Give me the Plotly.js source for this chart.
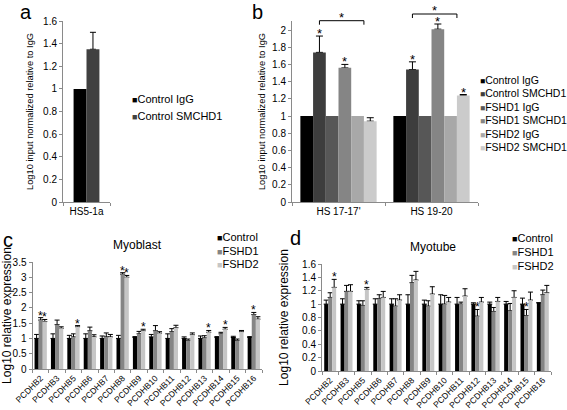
<!DOCTYPE html>
<html><head><meta charset="utf-8">
<script src="https://cdn.plot.ly/plotly-3.0.1.min.js"></script>
<style>html,body{margin:0;padding:0;background:#fff}#chart{width:567px;height:410px}</style>
</head><body><div id="chart"></div>
<script>
// ---------------- DATA ----------------
// Panel a
const aCategories = ['HS5-1a'];
const aSeriesNames = ['Control IgG', 'Control SMCHD1'];
const aControlIgG = [1];
const aControlSMCHD1 = [1.35];
const aErrControlIgG = [0];
const aErrControlSMCHD1 = [0.15];

// Panel b
const bCategories = ["HS 17-17'", 'HS 19-20'];
const bSeriesNames = ['Control IgG', 'Control SMCHD1', 'FSHD1 IgG', 'FSHD1 SMCHD1', 'FSHD2 IgG', 'FSHD2 SMCHD1'];
const bControlIgG = [1, 1];
const bControlSMCHD1 = [1.74, 1.54];
const bFSHD1IgG = [1, 1];
const bFSHD1SMCHD1 = [1.56, 2.01];
const bFSHD2IgG = [1, 1];
const bFSHD2SMCHD1 = [0.94, 1.24];
const bErrIgG = [0, 0];
const bErrControlSMCHD1 = [0.19, 0.09];
const bErrFSHD1SMCHD1 = [0.04, 0.06];
const bErrFSHD2SMCHD1 = [0.04, 0.01];
const bStarControlSMCHD1 = [1, 1];
const bStarFSHD1SMCHD1 = [1, 1];
const bStarFSHD2SMCHD1 = [0, 1];

// Panels c and d share categories
const geneCategories = ['PCDHB2','PCDHB3','PCDHB5','PCDHB6','PCDHB7','PCDHB8','PCDHB9','PCDHB10','PCDHB11','PCDHB12','PCDHB13','PCDHB14','PCDHB15','PCDHB16'];
const cdSeriesNames = ['Control', 'FSHD1', 'FSHD2'];

// Panel c (Myoblast)
const cControl    = [1.0, 1.0, 1.0, 1.0, 1.0, 1.0, 1.03, 1.05, 1.0, 1.0, 1.0, 1.03, 1.03, 1.03];
const cControlErr = [0.13, 0.15, 0.1, 0.15, 0.08, 0.1, 0.03, 0.08, 0.15, 0.05, 0.08, 0.03, 0.04, 0.03];
const cFSHD1      = [1.6, 1.45, 1.05, 1.25, 1.05, 3.1, 1.15, 1.25, 1.22, 0.93, 1.02, 1.15, 0.93, 1.78];
const cFSHD1Err   = [0.08, 0.15, 0.1, 0.12, 0.13, 0.05, 0.08, 0.17, 0.1, 0.05, 0.07, 0.05, 0.05, 0.07];
const cFSHD2      = [1.55, 1.33, 1.38, 1.05, 1.05, 3.0, 1.25, 1.17, 1.35, 1.12, 1.2, 1.3, 1.22, 1.63];
const cFSHD2Err   = [0.07, 0.05, 0.04, 0.07, 0.08, 0.06, 0.05, 0.05, 0.08, 0.06, 0.06, 0.06, 0.04, 0.08];
const cStarFSHD1  = [1,0,0,0,0,1,0,0,0,0,0,0,0,1];
const cStarFSHD2  = [1,0,1,0,0,1,1,0,0,0,1,1,0,0];

// Panel d (Myotube)
const dControl    = [1.0, 1.0, 1.0, 1.0, 1.0, 1.0, 1.0, 1.0, 1.0, 1.0, 1.0, 1.0, 1.0, 1.02];
const dControlErr = [0.06, 0.08, 0.05, 0.08, 0.08, 0.14, 0.06, 0.14, 0.1, 0.02, 0.03, 0.04, 0.09, 0];
const dFSHD1      = [1.1, 1.19, 0.98, 1.08, 0.97, 1.32, 0.97, 1.0, 1.0, 0.82, 0.89, 0.9, 0.83, 1.14];
const dFSHD1Err   = [0.07, 0.09, 0.07, 0.06, 0.11, 0.11, 0.08, 0.13, 0.03, 0.1, 0.06, 0.11, 0.09, 0.07];
const dFSHD2      = [1.25, 1.19, 1.22, 1.1, 1.06, 1.36, 1.15, 1.03, 1.12, 1.03, 1.04, 1.1, 1.06, 1.17];
const dFSHD2Err   = [0.12, 0.1, 0.03, 0.09, 0.08, 0.13, 0.11, 0.07, 0.11, 0.07, 0.06, 0.1, 0.12, 0.11];
const dStarFSHD1  = [0,0,0,0,0,0,0,0,0,1,0,0,1,0];
const dStarFSHD2  = [1,0,1,0,0,0,0,0,0,0,0,0,0,0];

// ---------------- STYLE / LAYOUT HELPERS ----------------
const W = 567, H = 410;
const fx = p => p / W;          // pixel x -> paper
const fy = p => 1 - p / H;      // pixel y -> paper
const FONT = 'Liberation Sans, Arial, sans-serif';

const colA = ['#000000', '#404040'];
const colB = ['#000000', '#3d3d3d', '#575757', '#858585', '#a8a8a8', '#cbcbcb'];
const colCD = ['#000000', '#858585', '#c6c6c6'];

const errTraces = [];   // drawn first, so the bars cover the lower end of each error bar
const barTraces = [];
const annotations = [];
const shapes = [];

function addGroup(xa, ya, cats, series, gap, capW, starSize) {
  const n = series.length, gw = 1 - gap, bw = gw / n;
  series.forEach((s, i) => {
    const off = -gw / 2 + i * bw;
    if (s.err.some(v => v > 0)) {
      errTraces.push({
        type: 'bar', x: cats, y: s.values, name: s.name + ' error', xaxis: xa, yaxis: ya,
        width: bw, offset: off, marker: { color: 'rgba(0,0,0,0)', line: { width: 0 } },
        error_y: { type: 'data', array: s.err, arrayminus: s.err.map(() => 0), symmetric: false,
                   visible: true, color: '#000', thickness: 1, width: capW },
        showlegend: false, hoverinfo: 'skip'
      });
    }
    barTraces.push({
      type: 'bar', x: cats, y: s.values, name: s.name, xaxis: xa, yaxis: ya,
      width: bw, offset: off,
      marker: { color: s.color, line: { width: 0 } },
      showlegend: false, hoverinfo: 'skip'
    });
    if (s.stars) s.stars.forEach((st, j) => {
      if (!st) return;
      annotations.push({
        xref: xa, yref: ya, x: j + off + bw / 2, y: s.values[j] + s.err[j],
        text: '*', showarrow: false, yanchor: 'bottom', yshift: -6, borderpad: 0,
        font: { family: FONT, size: starSize, color: '#000' }
      });
    });
  });
  return { gw, bw };
}

function addLegend(names, colors, xPx, yPx, stepPx, size) {
  names.forEach((nm, i) => {
    annotations.push({
      xref: 'paper', yref: 'paper', x: fx(xPx), y: fy(yPx + i * stepPx),
      xanchor: 'left', yanchor: 'middle', showarrow: false, borderpad: 0,
      text: '<span style="color:' + colors[i] + ';font-size:' + (size - 2) + 'px">■</span>' + nm,
      font: { family: FONT, size: size, color: '#000' }
    });
  });
}

// Panel a
addGroup('x', 'y', aCategories, [
  { name: aSeriesNames[0], values: aControlIgG, err: aErrControlIgG, color: colA[0] },
  { name: aSeriesNames[1], values: aControlSMCHD1, err: aErrControlSMCHD1, color: colA[1] }
], 0.45, 3, 12);

// Panel b
const bGeo = addGroup('x2', 'y2', bCategories, [
  { name: bSeriesNames[0], values: bControlIgG, err: bErrIgG, color: colB[0] },
  { name: bSeriesNames[1], values: bControlSMCHD1, err: bErrControlSMCHD1, color: colB[1], stars: bStarControlSMCHD1 },
  { name: bSeriesNames[2], values: bFSHD1IgG, err: bErrIgG, color: colB[2] },
  { name: bSeriesNames[3], values: bFSHD1SMCHD1, err: bErrFSHD1SMCHD1, color: colB[3], stars: bStarFSHD1SMCHD1 },
  { name: bSeriesNames[4], values: bFSHD2IgG, err: bErrIgG, color: colB[4] },
  { name: bSeriesNames[5], values: bFSHD2SMCHD1, err: bErrFSHD2SMCHD1, color: colB[5], stars: bStarFSHD2SMCHD1 }
], 0.18, 3.5, 13);

// Panel c
addGroup('x3', 'y3', geneCategories, [
  { name: cdSeriesNames[0], values: cControl, err: cControlErr, color: colCD[0] },
  { name: cdSeriesNames[1], values: cFSHD1, err: cFSHD1Err, color: colCD[1], stars: cStarFSHD1 },
  { name: cdSeriesNames[2], values: cFSHD2, err: cFSHD2Err, color: colCD[2], stars: cStarFSHD2 }
], 0.25, 2.5, 12);

// Panel d
addGroup('x4', 'y4', geneCategories, [
  { name: cdSeriesNames[0], values: dControl, err: dControlErr, color: colCD[0] },
  { name: cdSeriesNames[1], values: dFSHD1, err: dFSHD1Err, color: colCD[1], stars: dStarFSHD1 },
  { name: cdSeriesNames[2], values: dFSHD2, err: dFSHD2Err, color: colCD[2], stars: dStarFSHD2 }
], 0.27, 2.5, 12);

// Significance brackets for panel b
const bracketTopPx = [20.7, 14];
bCategories.forEach((c, j) => {
  const x0 = j - bGeo.gw / 2 + 1.5 * bGeo.bw;   // centre of Control SMCHD1 bar
  const x1 = j - bGeo.gw / 2 + 5 * bGeo.bw;     // edge before FSHD2 SMCHD1 bar
  const yt = fy(bracketTopPx[j]), yb = fy(bracketTopPx[j] + 4);
  const ln = { color: '#000', width: 1 };
  shapes.push({ type: 'line', xref: 'x2', yref: 'paper', x0: x0, x1: x1, y0: yt, y1: yt, line: ln });
  shapes.push({ type: 'line', xref: 'x2', yref: 'paper', x0: x0, x1: x0, y0: yt, y1: yb, line: ln });
  shapes.push({ type: 'line', xref: 'x2', yref: 'paper', x0: x1, x1: x1, y0: yt, y1: yb, line: ln });
  annotations.push({ xref: 'x2', yref: 'paper', x: (x0 + x1) / 2, y: yt, yanchor: 'bottom', yshift: -5, borderpad: 0,
    text: '*', showarrow: false, font: { family: FONT, size: 13, color: '#000' } });
});

// Legends
addLegend(aSeriesNames, colA, 131, 99, 17, 11);
addLegend(bSeriesNames, colB, 479, 80, 13.45, 10.5);
addLegend(cdSeriesNames, colCD, 216, 237, 13.6, 11);
addLegend(cdSeriesNames, colCD, 511, 238, 14, 11);

// Panel letters (top-anchored so they stay inside the picture) and titles
[['a', 26, 0, 'top'], ['b', 257, 0, 'top'], ['c', 8, 240, 'middle'], ['d', 295, 238, 'middle']].forEach(([t, x, y, anc]) => {
  annotations.push({ xref: 'paper', yref: 'paper', x: fx(x), y: fy(y), xanchor: 'center', yanchor: anc,
    showarrow: false, borderpad: 0, text: t, font: { family: FONT, size: 20, color: '#000' } });
});
[['Myoblast', 137, 245], ['Myotube', 433, 247]].forEach(([t, x, y]) => {
  annotations.push({ xref: 'paper', yref: 'paper', x: fx(x), y: fy(y), xanchor: 'center', yanchor: 'middle',
    showarrow: false, text: t, font: { family: FONT, size: 12, color: '#000' } });
});

const axLine = '#8a8a8a';
function yAxis(dom, range, dtick, title, standoff, titleSize, anchor) {
  return {
    domain: [fy(dom[0]), fy(dom[1])], range: range, dtick: dtick, tick0: 0, anchor: anchor,
    showline: true, linecolor: axLine, linewidth: 1, ticks: 'outside', ticklen: 3, tickcolor: axLine,
    showgrid: false, zeroline: false, fixedrange: true,
    tickfont: { family: FONT, size: 10, color: '#000' },
    title: { text: title, standoff: standoff, font: { family: FONT, size: titleSize, color: '#000' } },
    automargin: false
  };
}
function xAxis(dom, n, anchor, angle, size) {
  return {
    domain: [fx(dom[0]), fx(dom[1])], type: 'category', range: [-0.5, n - 0.5], anchor: anchor,
    showline: true, linecolor: axLine, linewidth: 1, ticks: 'outside', ticklen: 3, tickcolor: axLine,
    tickson: 'boundaries', showgrid: false, zeroline: false, fixedrange: true,
    tickangle: angle, tickfont: { family: FONT, size: size, color: '#000' }, automargin: false
  };
}

const yTitleAB = 'Log10 input normalized relative to IgG';
const yTitleCD = 'Log10 relative expression';

const layout = {
  width: W, height: H, margin: { l: 0, r: 0, t: 0, b: 0 },
  paper_bgcolor: '#fff', plot_bgcolor: '#fff', showlegend: false,
  barmode: 'group',
  font: { family: FONT, color: '#000' },
  xaxis:  xAxis([63, 110], aCategories.length, 'y', 0, 10),
  yaxis:  yAxis([202, 21], [0, 1.6], 0.2, yTitleAB, 7, 9.3, 'x'),
  xaxis2: xAxis([292, 478], bCategories.length, 'y2', 0, 10),
  yaxis2: yAxis([202, 21], [0, 2.105], 0.2, yTitleAB, 4, 9.3, 'x2'),
  xaxis3: xAxis([32.5, 262], geneCategories.length, 'y3', -45, 8.5),
  yaxis3: yAxis([369, 262], [0, 3.5], 0.5, yTitleCD, 6, 12, 'x3'),
  xaxis4: xAxis([322, 551], geneCategories.length, 'y4', -45, 8.5),
  yaxis4: yAxis([371, 264], [0, 1.6], 0.2, yTitleCD, 10, 12, 'x4'),
  annotations: annotations,
  shapes: shapes
};

Plotly.newPlot('chart', errTraces.concat(barTraces), layout, { displayModeBar: false, responsive: false });
</script>
</body></html>
